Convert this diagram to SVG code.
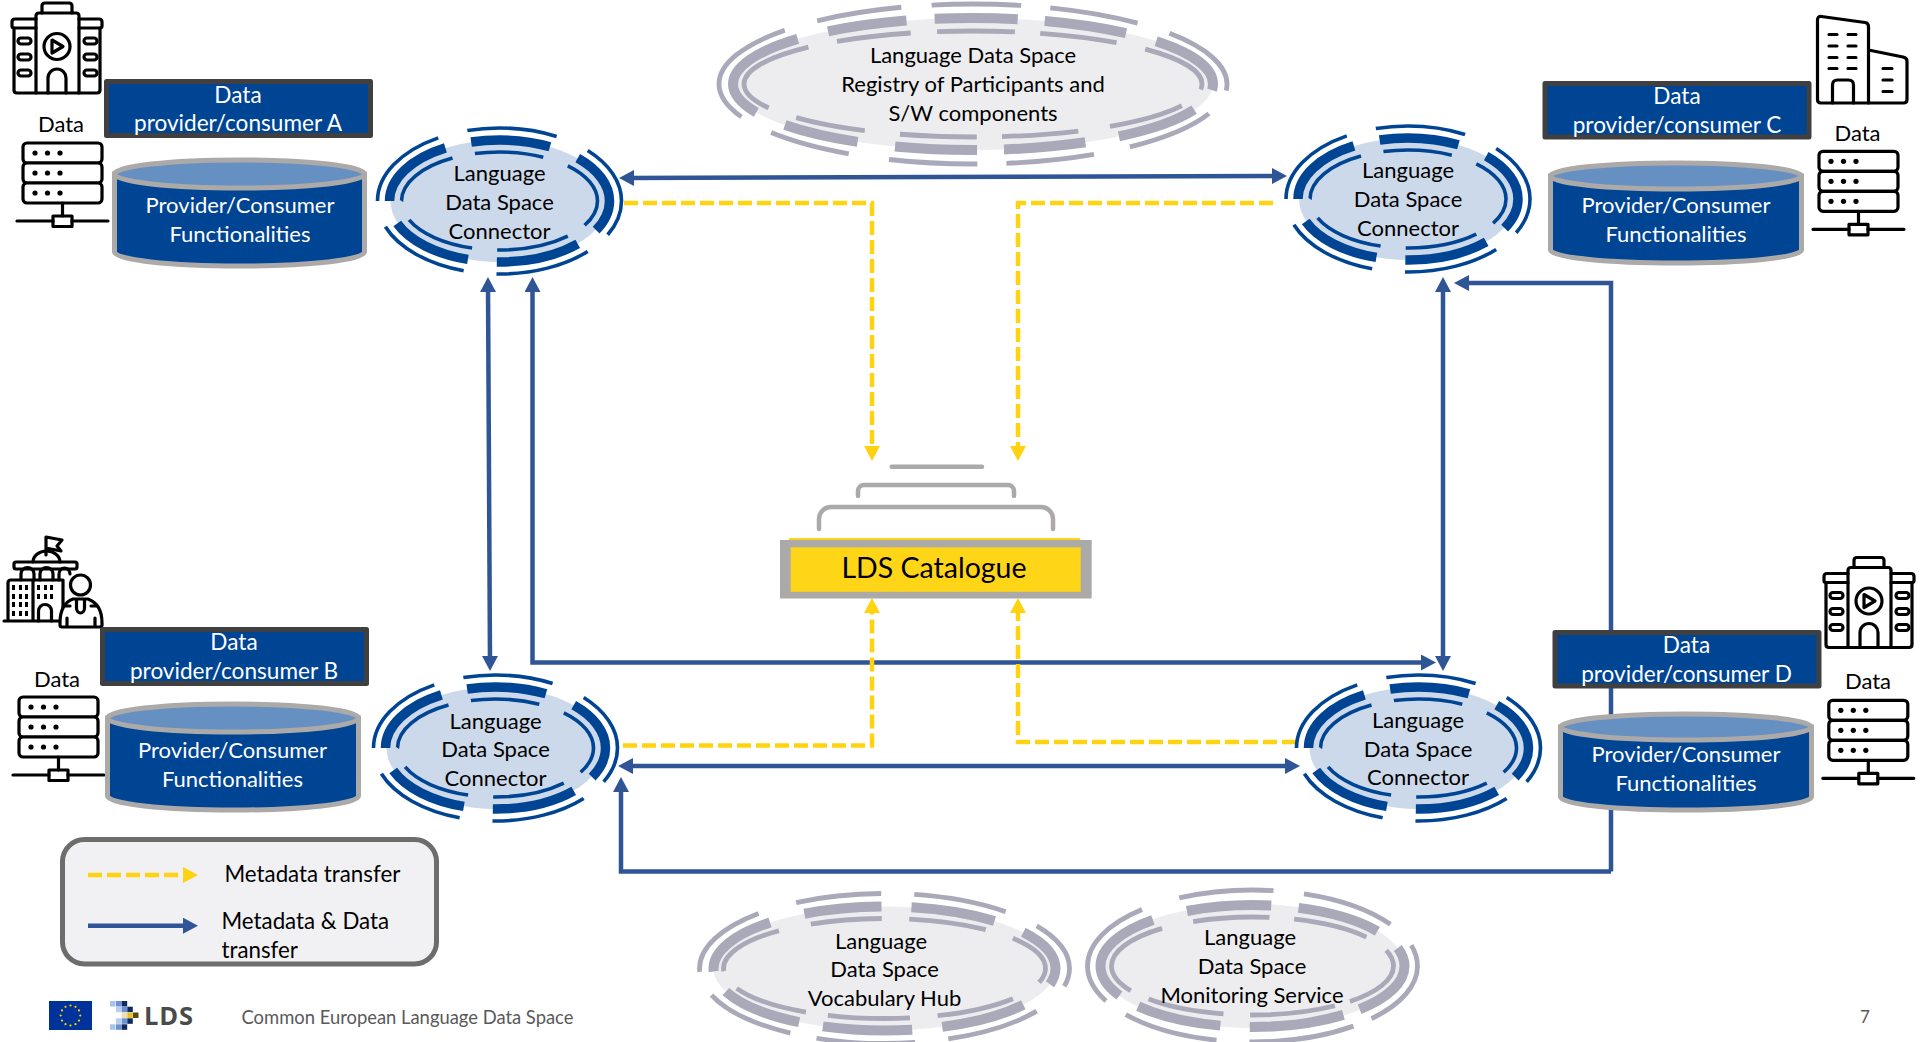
<svg xmlns="http://www.w3.org/2000/svg" xmlns:xlink="http://www.w3.org/1999/xlink" width="1920" height="1042" viewBox="0 0 1920 1042">
<style>
text{font-family:"Lato","Open Sans","Liberation Sans",sans-serif;font-size:22px;fill:#000;text-anchor:middle}
.w{fill:#fff}
.bx{font-size:22.6px}
.l{text-anchor:start;font-size:22.3px}
.thin{fill:none;stroke-width:3.6}
.thick{fill:none;stroke-width:9.5}
.gthin{fill:none;stroke:#a9a9b9;stroke-width:4.8}
.gthick{fill:none;stroke:#a9a9b9;stroke-width:10}
.blue{stroke:#004494}
.body{fill:#cbd9ea}
.gbody{fill:#ededef}
.box{fill:#004494;stroke:#404040;stroke-width:5;stroke-linejoin:round}
.cyl{fill:#004494;stroke:#aca9a9;stroke-width:5}
.top{fill:#6690c2;stroke:#aca9a9;stroke-width:5}
.ic{fill:none;stroke:#000;stroke-width:3.2;stroke-linejoin:round;stroke-linecap:round}
.ics{fill:#fff;stroke:#000;stroke-width:3.2;stroke-linejoin:round;stroke-linecap:round}
.dot{fill:#000}
.cb{fill:none;stroke:#2f5597;stroke-width:4.5;marker-start:url(#ab);marker-end:url(#ab)}
.cb1{fill:none;stroke:#2f5597;stroke-width:4.5;marker-end:url(#ab)}
.cy{fill:none;stroke:#ffd30f;stroke-width:4.5;stroke-dasharray:14 5;marker-end:url(#ay)}
.st{fill:none;stroke:#aca9a9;stroke-width:4.5;stroke-linecap:round}
</style>
<defs>
<marker id="ab" markerUnits="userSpaceOnUse" markerWidth="15" markerHeight="16" refX="7" refY="8" orient="auto-start-reverse"><path d="M0,0L15,8L0,16z" fill="#2f5597"/></marker>
<marker id="ay" markerUnits="userSpaceOnUse" markerWidth="15" markerHeight="16" refX="7" refY="8" orient="auto-start-reverse"><path d="M0,0L15,8L0,16z" fill="#ffd30f"/></marker>
<g id="ring-blue">
<ellipse class="body" rx="109" ry="61"/>
<g stroke-dasharray="6 4.2 15.3 5.3 14.8 4.4 15 4.8 14.5 5.5 10.2">
<ellipse class="thin blue" pathLength="100" rx="122" ry="73"/>
<ellipse class="thick blue" pathLength="100" rx="110" ry="61"/>
<ellipse class="thin blue" pathLength="100" rx="98" ry="49"/>
</g>
</g>
<g id="server">
<rect class="ics" x="23" y="143" width="79" height="20" rx="4"/>
<rect class="ics" x="23" y="163" width="79" height="20" rx="4"/>
<rect class="ics" x="23" y="183" width="79" height="20" rx="4"/>
<circle class="dot" cx="35" cy="153" r="2.6"/><circle class="dot" cx="47.5" cy="153" r="2.6"/><circle class="dot" cx="60" cy="153" r="2.6"/>
<circle class="dot" cx="35" cy="173" r="2.6"/><circle class="dot" cx="47.5" cy="173" r="2.6"/><circle class="dot" cx="60" cy="173" r="2.6"/>
<circle class="dot" cx="35" cy="193" r="2.6"/><circle class="dot" cx="47.5" cy="193" r="2.6"/><circle class="dot" cx="60" cy="193" r="2.6"/>
<path class="ic" d="M62.5,203V216M17,221H53M72,221H108"/>
<rect class="ic" x="53" y="216" width="19" height="10.5"/>
</g>
<g id="playhouse">
<path class="ic" d="M42,13V6q0,-3 3,-3h24q3,0 3,3v7"/>
<path class="ic" d="M36,93V16q0,-3 3,-3h37q3,0 3,3V93"/>
<path class="ic" d="M36,19H15q-3,0 -3,3v4q0,2 2,2H36M79,19h20q3,0 3,3v4q0,2 -2,2H79"/>
<path class="ic" d="M14,28V90q0,3 3,3H97q3,0 3,-3V28"/>
<rect class="ic" x="18" y="38" width="13" height="6" rx="3"/><rect class="ic" x="18" y="54" width="13" height="6" rx="3"/><rect class="ic" x="18" y="70" width="13" height="6" rx="3"/>
<rect class="ic" x="84" y="38" width="13" height="6" rx="3"/><rect class="ic" x="84" y="54" width="13" height="6" rx="3"/><rect class="ic" x="84" y="70" width="13" height="6" rx="3"/>
<circle class="ic" cx="57" cy="46.500" r="13"/>
<path class="ic" d="M52,40L63,46.500L52,53z"/>
<path class="ic" d="M48,93V78a9,9 0 0 1 18,0V93"/>
</g>
<g id="arc-registry" stroke-dasharray=".6 2.6 7.7 3.3 7.800 2.6 7.900 3.6 7.200 3 11.700 3 7.600 2.700 8 2.600 7.900 3 7.200">
<ellipse class="gthin" pathLength="100" rx="254" ry="80"/>
<ellipse class="gthick" pathLength="100" rx="240" ry="66"/>
<ellipse class="gthin" pathLength="100" rx="229" ry="53"/>
</g>
<g id="arc-vocab" stroke-dasharray="2.2 4.4 10.9 3.9 11.6 3.1 10.4 3.1 10.4 4.6 10 3.9 10.9 4 6.6">
<ellipse class="gthin" pathLength="100" rx="185" ry="75"/>
<ellipse class="gthick" pathLength="100" rx="171" ry="62"/>
<ellipse class="gthin" pathLength="100" rx="161" ry="50"/>
</g>
<g id="arc-monitor" stroke-dasharray="9.4 2.5 13.5 4.2 12.1 3.1 15.8 5 12.1 3.9 11.8 3.8 2.8">
<ellipse class="gthin" pathLength="100" rx="165" ry="76"/>
<ellipse class="gthick" pathLength="100" rx="152" ry="61"/>
<ellipse class="gthin" pathLength="100" rx="141" ry="49"/>
</g>
</defs>
<rect width="1920" height="1042" fill="#fff"/>
<g id="connectors">
<path class="cb" d="M627,178L1279,176"/>
<path class="cb" d="M488,285L490,663"/>
<path class="cb" d="M532.500,285V662.500H1428"/>
<path class="cb" d="M1443,285V663"/>
<path class="cb" d="M626,766H1292"/>
<path class="cb1" d="M1611,871.500H621V785"/>
<path class="cb1" d="M1611,871.500V283H1462"/>
<path class="cy" d="M624,203H872V453"/>
<path class="cy" d="M1273,203H1018V453"/>
<path class="cy" d="M623,745.500H872V606"/>
<path class="cy" d="M1296,742H1018V606"/>
</g>
<g id="registry">
<ellipse class="gbody" cx="973" cy="84" rx="240" ry="66"/>
<use xlink:href="#arc-registry" href="#arc-registry" transform="translate(973 84)"/>
<text x="973" y="63">Language Data Space</text>
<text x="973" y="92">Registry of Participants and</text>
<text x="973" y="121">S/W components</text>
</g>
<g id="connector-a">
<use href="#ring-blue" transform="translate(499.500 201)"/>
<text x="499.500" y="181">Language</text><text x="499.500" y="210">Data Space</text><text x="499.500" y="239">Connector</text>
</g>
<g id="connector-b">
<use href="#ring-blue" transform="translate(495.500 748)"/>
<text x="495.500" y="729">Language</text><text x="495.500" y="757">Data Space</text><text x="495.500" y="786">Connector</text>
</g>
<g id="connector-c">
<use href="#ring-blue" transform="translate(1408 199)"/>
<text x="1408" y="178">Language</text><text x="1408" y="207">Data Space</text><text x="1408" y="236">Connector</text>
</g>
<g id="connector-d">
<use href="#ring-blue" transform="translate(1418.500 748)"/>
<text x="1418" y="728">Language</text><text x="1418" y="757">Data Space</text><text x="1418" y="785">Connector</text>
</g>
<g id="provider-a">
<use href="#playhouse"/>
<text x="61" y="132">Data</text>
<use href="#server"/>
<rect class="box" x="106.500" y="81.500" width="264" height="54"/>
<text class="w bx" x="238" y="103">Data</text><text class="w bx" x="238" y="131">provider/consumer A</text>
<path class="cyl" d="M114.500,174V252A125,14 0 0 0 364.500,252V174z"/>
<ellipse class="top" cx="239.500" cy="174" rx="125" ry="14"/>
<text class="w" x="240" y="213">Provider/Consumer</text><text class="w" x="240" y="242">Functionalities</text>
</g>
<g id="provider-b">
<g id="b-icon">
<path class="ic" d="M46,555V537L62,540L57,546L61,551L46,548"/>
<path class="ic" d="M33,562A13.500,11 0 0 1 60,562"/>
<rect class="ic" x="14" y="562" width="63" height="7" rx="2"/>
<path class="ic" d="M21,580V574a6.500,6.500 0 0 1 13,0V580M40,580V574a6.500,6.500 0 0 1 13,0V580M59,580V574a5.500,6 0 0 1 11,0"/>
<path class="ic" d="M8,621V583q0,-3 3,-3H63M33,580V621M63,580V621M4,621H60"/>
<path class="ic" d="M38.500,621V611a6.500,6.500 0 0 1 13,0V621"/>
<g class="dot"><rect x="12" y="585" width="3" height="5"/><rect x="19" y="585" width="3" height="5"/><rect x="25" y="585" width="3" height="5"/><rect x="12" y="594" width="3" height="5"/><rect x="19" y="594" width="3" height="5"/><rect x="25" y="594" width="3" height="5"/><rect x="12" y="602" width="3" height="5"/><rect x="19" y="602" width="3" height="5"/><rect x="25" y="602" width="3" height="5"/><rect x="12" y="611" width="3" height="5"/><rect x="19" y="611" width="3" height="5"/><rect x="25" y="611" width="3" height="5"/><rect x="37" y="585" width="3" height="5"/><rect x="44" y="585" width="3" height="5"/><rect x="50" y="585" width="3" height="5"/><rect x="37" y="594" width="3" height="5"/><rect x="44" y="594" width="3" height="5"/><rect x="50" y="594" width="3" height="5"/></g>
<circle class="ics" cx="80.500" cy="585" r="10"/>
<path class="ics" d="M60,623c0,-14 5,-21 13,-24h15c8,3 14,10 14,24v2q0,2 -2,2H62q-2,0 -2,-2z"/>
<path class="ic" d="M76.500,600v8a4,5 0 0 0 8,0v-8M65,606h5M91,606h5M67,618v8M95,618v8"/>
</g>
<text x="57" y="687">Data</text>
<use href="#server" transform="translate(-4 554)"/>
<rect class="box" x="102.500" y="629.500" width="264" height="54"/>
<text class="w bx" x="234" y="650">Data</text><text class="w bx" x="234" y="679">provider/consumer B</text>
<path class="cyl" d="M107.500,718V796A125,14 0 0 0 358.500,796V718z"/>
<ellipse class="top" cx="233" cy="718" rx="125.500" ry="14"/>
<text class="w" x="232.500" y="758">Provider/Consumer</text><text class="w" x="232.500" y="787">Functionalities</text>
</g>
<g id="provider-c">
<g id="c-icon">
<path class="ic" d="M1817.500,20q0,-4 4,-3.500L1865,22.500q3.500,.5 3.500,4V103H1821q-3.500,0 -3.500,-3.500z"/>
<path class="ic" d="M1868.500,50L1903,57q4,1 4,4V99.500q0,3.500 -3.500,3.500H1868.500"/>
<path class="ic" d="M1829,34.500h8M1848,34.500h8M1829,46h8M1848,46h8M1829,57.500h8M1848,57.500h8M1829,68.500h8M1848,68.500h8M1883,68.500h9M1883,80h9M1883,91.500h9"/>
<path class="ic" d="M1832.500,103V85q0,-5 5,-5h11q5,0 5,5V103"/>
</g>
<text x="1857.500" y="140.500">Data</text>
<use href="#server" transform="translate(1796 8.300)"/>
<rect class="box" x="1545" y="83.500" width="264" height="53.500"/>
<text class="w bx" x="1677" y="104">Data</text><text class="w bx" x="1677" y="132.500">provider/consumer C</text>
<path class="cyl" d="M1550.500,176V250A125,13 0 0 0 1801.500,250V176z"/>
<ellipse class="top" cx="1676" cy="176" rx="125.500" ry="13"/>
<text class="w" x="1676" y="213">Provider/Consumer</text><text class="w" x="1676" y="242">Functionalities</text>
</g>
<g id="provider-d">
<use href="#playhouse" transform="translate(1812 554.500)"/>
<text x="1868" y="689">Data</text>
<use href="#server" transform="translate(1805.800 557.300)"/>
<rect class="box" x="1555" y="632.500" width="264" height="53.500"/>
<text class="w bx" x="1686.500" y="653">Data</text><text class="w bx" x="1686.500" y="681.500">provider/consumer D</text>
<path class="cyl" d="M1560.500,727V797A125,13 0 0 0 1811.500,797V727z"/>
<ellipse class="top" cx="1686" cy="727" rx="125.500" ry="13"/>
<text class="w" x="1686" y="762">Provider/Consumer</text><text class="w" x="1686" y="791">Functionalities</text>
</g>
<g id="catalogue">
<path class="st" d="M891.700,466.700H982"/>
<path class="st" d="M858,496V491a6,6 0 0 1 6,-6H1008a6,6 0 0 1 6,6V496"/>
<path class="st" d="M819,529V519a12,12 0 0 1 12,-12H1041a12,12 0 0 1 12,12V529"/>
<rect x="789" y="538" width="291" height="4" fill="#ffd617"/>
<rect x="780" y="540" width="311.700" height="58.500" fill="#aca9a9"/>
<rect x="790.700" y="547.300" width="290" height="44.500" fill="#ffd617"/>
<text x="934" y="578" style="font-size:28.500px">LDS Catalogue</text>
</g>
<g id="vocabulary-hub">
<ellipse class="gbody" cx="884.500" cy="968.500" rx="171" ry="62"/>
<use href="#arc-vocab" transform="translate(884.500 968.500)"/>
<text x="881" y="949">Language</text><text x="884.500" y="977">Data Space</text><text x="884.500" y="1006">Vocabulary Hub</text>
</g>
<g id="monitoring-service">
<ellipse class="gbody" cx="1252.500" cy="966" rx="152" ry="62"/>
<use href="#arc-monitor" transform="translate(1252.500 966)"/>
<text x="1250" y="945">Language</text><text x="1252" y="974">Data Space</text><text x="1252" y="1003">Monitoring Service</text>
</g>
<g id="legend">
<rect x="62.500" y="839.500" width="374" height="124.500" rx="22" fill="#f1f1f4" stroke="#6d6d6b" stroke-width="5"/>
<path class="cy" d="M88,875H190" />
<path class="cb1" d="M88,925.700H190"/>
<text class="l" x="224.500" y="882">Metadata transfer</text>
<text class="l" x="221.500" y="929">Metadata &amp; Data</text>
<text class="l" x="221.500" y="958">transfer</text>
</g>
<g id="footer">
<rect x="49" y="1001" width="43" height="29" fill="#003399"/>
<g fill="#ffcc00"><circle cx="70.500" cy="1005.500" r="1.100"/><circle cx="75.500" cy="1006.800" r="1.100"/><circle cx="79" cy="1010.400" r="1.100"/><circle cx="80.300" cy="1015.500" r="1.100"/><circle cx="79" cy="1020.600" r="1.100"/><circle cx="75.500" cy="1024.200" r="1.100"/><circle cx="70.500" cy="1025.500" r="1.100"/><circle cx="65.500" cy="1024.200" r="1.100"/><circle cx="62" cy="1020.600" r="1.100"/><circle cx="60.700" cy="1015.500" r="1.100"/><circle cx="62" cy="1010.400" r="1.100"/><circle cx="65.500" cy="1006.800" r="1.100"/></g>
<g id="lds-logo">
<rect x="110" y="1001" width="5.500" height="5.500" fill="#a9c4ea"/><rect x="116" y="1001" width="5.500" height="5.500" fill="#6a92d6"/><rect x="121.700" y="1001" width="5.500" height="5.500" fill="#0f2a5c"/>
<rect x="116" y="1006.700" width="5.500" height="5.500" fill="#b8cdef"/><rect x="121.700" y="1006.700" width="5.500" height="5.500" fill="#6a92d6"/><rect x="127.300" y="1006.700" width="5.500" height="5.500" fill="#0f2a5c"/>
<rect x="121.700" y="1012.500" width="5.500" height="5.500" fill="#eee0ad"/><rect x="127.300" y="1012.500" width="5.500" height="5.500" fill="#e9c030"/><rect x="133" y="1012.500" width="5.500" height="5.500" fill="#5a4a10"/>
<rect x="116" y="1018.300" width="5.500" height="5.500" fill="#b8cdef"/><rect x="121.700" y="1018.300" width="5.500" height="5.500" fill="#6a92d6"/><rect x="127.300" y="1018.300" width="5.500" height="5.500" fill="#0f2a5c"/>
<rect x="110" y="1024.300" width="5.500" height="5.500" fill="#a9c4ea"/><rect x="116" y="1024.300" width="5.500" height="5.500" fill="#6a92d6"/><rect x="121.700" y="1024.300" width="5.500" height="5.500" fill="#0f2a5c"/>
</g>
<text x="144" y="1024.500" style="text-anchor:start;font-family:'Open Sans',sans-serif;font-weight:700;font-size:25.500px;fill:#4a4a4a;letter-spacing:.8px">LDS</text>
<text x="241.500" y="1024" style="text-anchor:start;font-size:18.400px;fill:#595959">Common European Language Data Space</text>
<text x="1865" y="1023" style="font-size:17px;fill:#595959">7</text>
</g>
</svg>
